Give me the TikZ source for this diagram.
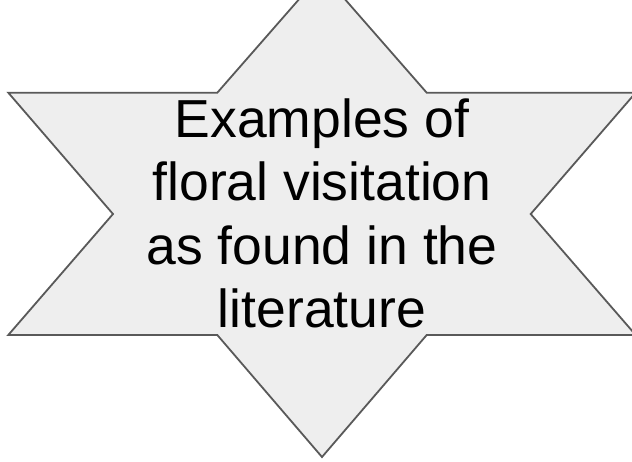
\documentclass[tikz,border=0pt]{standalone}
\usepackage{fontspec}
\setmainfont{Liberation Sans}
\definecolor{starfill}{HTML}{EEEEEE}
\definecolor{starline}{HTML}{595959}
\tikzset{
  starshape/.style={fill=starfill, draw=starline, line width=1.8pt, line join=miter},
  startext/.style={align=center, inner sep=0pt, text=black, font=\fontsize{53.5}{63.3}\selectfont}
}
\begin{document}
\begin{tikzpicture}[x=1pt,y=-1pt]
\useasboundingbox (0,0) rectangle (632,461);
\draw[starshape] (322,-27) -- (426.7,92.7) -- (635.7,92.7) -- (530.7,214) -- (635.7,335) -- (426.7,335) -- (322,457) -- (217.3,335) -- (8.3,335) -- (113,214) -- (8.3,92.7) -- (217.3,92.7) -- cycle;
\node[startext, anchor=north] (label) at (322,98.5) {Examples of\\floral visitation\\as found in the\\literature};
\end{tikzpicture}
\end{document}
